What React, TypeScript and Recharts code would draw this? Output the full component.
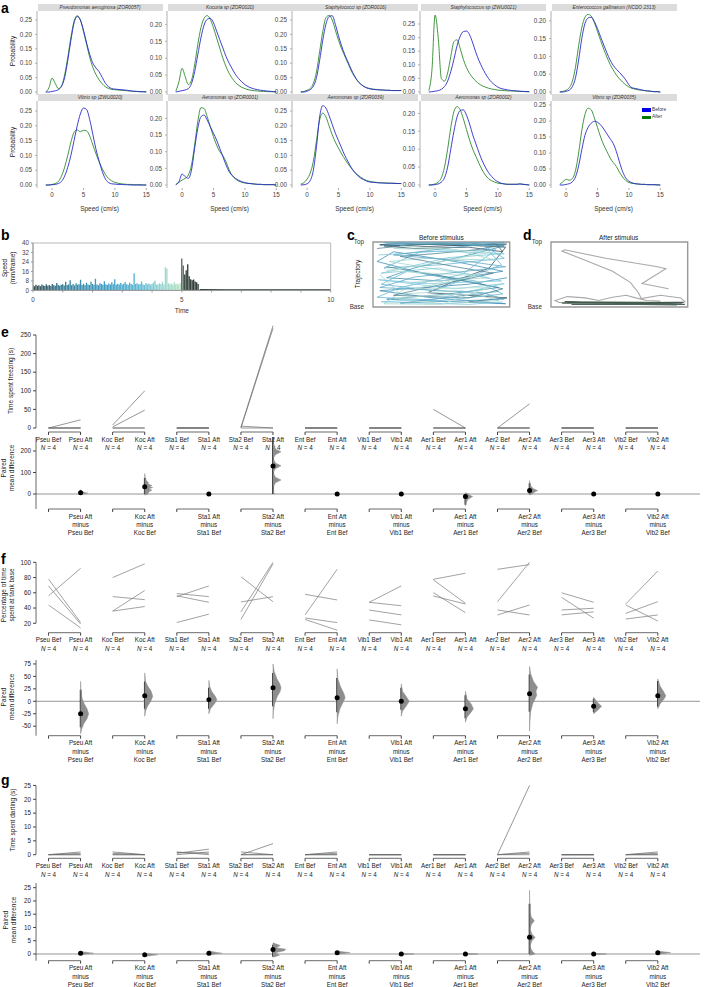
import React from 'react';
import { LineChart, Line, XAxis, YAxis, ComposedChart, Bar, Cell, Scatter, ReferenceLine, ReferenceArea } from 'recharts';

const FONT = '"Liberation Sans", Arial, Helvetica, sans-serif';
const BLUE = '#2b2bcc';
const GREEN = '#2e8b2e';

// ---------------- Panel a: speed density ----------------
const speedGrid = [-1, -0.5, 0, 0.5, 1, 1.5, 2, 2.5, 3, 3.5, 4, 4.5, 5, 5.5, 6, 6.5, 7, 7.5, 8, 8.5, 9, 9.5, 10, 10.5, 11, 11.5, 12, 12.5, 13, 13.5, 14, 14.5, 15];
const strainNames = ['Pseudomonas aeruginosa (ZOR0057)', 'Kocuria sp (ZOR0020)', 'Staphylococci sp (ZOR0016)', 'Staphylococcus sp (ZWU0021)', 'Enterococcus gallinarum (NCDO 2313)', 'Vibrio sp (ZWU0020)', 'Aeromonas sp (ZOR0001)', 'Aeromonas sp (ZOR0039)', 'Aeromonas sp (ZOR0002)', 'Vibrio sp (ZOR0035)'];

const zor0057Before = [0, 0, 0.002, 0.004, 0.008, 0.02, 0.05, 0.11, 0.18, 0.24, 0.262, 0.25, 0.215, 0.17, 0.13, 0.1, 0.083, 0.07, 0.05, 0.03, 0.018, 0.012, 0.01, 0.009, 0.008, 0.007, 0.006, 0.004, 0.003, 0.002, 0.001, 0.001, 0];
const zor0057After = [0, 0.015, 0.048, 0.03, 0.012, 0.02, 0.06, 0.12, 0.19, 0.245, 0.265, 0.25, 0.21, 0.165, 0.12, 0.085, 0.06, 0.042, 0.028, 0.018, 0.012, 0.009, 0.008, 0.007, 0.006, 0.005, 0.004, 0.003, 0.002, 0.002, 0.001, 0.001, 0.001];
const zor0020Before = [0, 0.002, 0.004, 0.006, 0.01, 0.025, 0.06, 0.11, 0.16, 0.198, 0.215, 0.218, 0.205, 0.18, 0.155, 0.13, 0.105, 0.085, 0.068, 0.052, 0.04, 0.03, 0.022, 0.016, 0.012, 0.009, 0.007, 0.005, 0.004, 0.003, 0.002, 0.001, 0.001];
const zor0020After = [0.002, 0.03, 0.07, 0.045, 0.022, 0.035, 0.08, 0.14, 0.19, 0.218, 0.226, 0.215, 0.19, 0.16, 0.13, 0.1, 0.075, 0.055, 0.04, 0.028, 0.02, 0.014, 0.01, 0.007, 0.005, 0.004, 0.003, 0.002, 0.002, 0.001, 0.001, 0.001, 0];
const zor0016Before = [0, 0, 0.003, 0.008, 0.02, 0.05, 0.11, 0.18, 0.235, 0.262, 0.265, 0.235, 0.195, 0.16, 0.13, 0.105, 0.08, 0.058, 0.04, 0.028, 0.02, 0.014, 0.011, 0.009, 0.008, 0.007, 0.007, 0.006, 0.006, 0.005, 0.005, 0.005, 0.005];
const zor0016After = [0, 0.002, 0.006, 0.012, 0.03, 0.07, 0.14, 0.21, 0.258, 0.266, 0.25, 0.215, 0.18, 0.15, 0.125, 0.1, 0.075, 0.055, 0.04, 0.028, 0.02, 0.015, 0.012, 0.01, 0.009, 0.008, 0.007, 0.006, 0.006, 0.005, 0.005, 0.005, 0.005];
const zwu0021Before = [0, 0.001, 0.003, 0.005, 0.01, 0.02, 0.04, 0.075, 0.12, 0.17, 0.205, 0.222, 0.224, 0.21, 0.18, 0.145, 0.115, 0.09, 0.068, 0.05, 0.036, 0.026, 0.018, 0.013, 0.01, 0.008, 0.006, 0.005, 0.004, 0.003, 0.002, 0.002, 0.001];
const zwu0021After = [0.005, 0.08, 0.283, 0.2, 0.05, 0.04, 0.07, 0.13, 0.185, 0.192, 0.16, 0.12, 0.09, 0.068, 0.052, 0.04, 0.03, 0.023, 0.018, 0.014, 0.011, 0.009, 0.007, 0.006, 0.005, 0.004, 0.004, 0.003, 0.003, 0.002, 0.002, 0.001, 0.001];
const ncdo2313Before = [0, 0, 0.002, 0.005, 0.015, 0.04, 0.09, 0.15, 0.192, 0.208, 0.21, 0.198, 0.178, 0.155, 0.132, 0.11, 0.09, 0.075, 0.064, 0.055, 0.045, 0.034, 0.02, 0.012, 0.01, 0.008, 0.006, 0.004, 0.003, 0.002, 0.001, 0.001, 0];
const ncdo2313After = [0, 0.002, 0.005, 0.012, 0.03, 0.07, 0.13, 0.18, 0.21, 0.218, 0.213, 0.195, 0.17, 0.145, 0.12, 0.098, 0.078, 0.062, 0.048, 0.037, 0.028, 0.02, 0.014, 0.01, 0.008, 0.006, 0.005, 0.004, 0.003, 0.002, 0.001, 0.001, 0];
const zwu0020Before = [0, 0, 0.001, 0.002, 0.005, 0.012, 0.03, 0.06, 0.1, 0.15, 0.2, 0.24, 0.26, 0.255, 0.22, 0.17, 0.12, 0.08, 0.045, 0.02, 0.008, 0.004, 0.003, 0.002, 0.002, 0.001, 0.001, 0, 0, 0, 0, 0, 0];
const zwu0020After = [0, 0, 0.002, 0.005, 0.012, 0.03, 0.06, 0.1, 0.145, 0.178, 0.186, 0.18, 0.185, 0.183, 0.165, 0.135, 0.105, 0.078, 0.055, 0.035, 0.022, 0.014, 0.009, 0.006, 0.004, 0.003, 0.002, 0.002, 0.001, 0.001, 0.001, 0, 0];
const zor0001Before = [0, 0.01, 0.033, 0.025, 0.02, 0.045, 0.11, 0.17, 0.205, 0.21, 0.195, 0.175, 0.155, 0.135, 0.11, 0.085, 0.06, 0.04, 0.028, 0.02, 0.014, 0.01, 0.007, 0.005, 0.004, 0.003, 0.002, 0.002, 0.001, 0.001, 0.001, 0.001, 0];
const zor0001After = [0.002, 0.008, 0.015, 0.02, 0.03, 0.06, 0.12, 0.19, 0.232, 0.23, 0.205, 0.175, 0.145, 0.12, 0.1, 0.088, 0.07, 0.045, 0.028, 0.018, 0.012, 0.008, 0.006, 0.005, 0.004, 0.003, 0.002, 0.002, 0.001, 0.001, 0.001, 0.001, 0];
const zor0039Before = [0, 0.001, 0.004, 0.015, 0.05, 0.13, 0.23, 0.268, 0.26, 0.235, 0.205, 0.175, 0.15, 0.125, 0.1, 0.08, 0.06, 0.045, 0.033, 0.024, 0.018, 0.013, 0.01, 0.009, 0.008, 0.007, 0.007, 0.006, 0.006, 0.006, 0.005, 0.005, 0.005];
const zor0039After = [0.003, 0.008, 0.02, 0.04, 0.08, 0.15, 0.22, 0.243, 0.23, 0.2, 0.17, 0.145, 0.125, 0.105, 0.088, 0.072, 0.058, 0.045, 0.035, 0.027, 0.02, 0.015, 0.012, 0.01, 0.009, 0.008, 0.007, 0.007, 0.006, 0.006, 0.006, 0.005, 0.005];
const zor0002Before = [0, 0, 0.001, 0.003, 0.008, 0.02, 0.05, 0.1, 0.15, 0.19, 0.208, 0.21, 0.195, 0.17, 0.14, 0.115, 0.09, 0.068, 0.05, 0.035, 0.024, 0.015, 0.009, 0.005, 0.003, 0.002, 0.002, 0.002, 0.002, 0.003, 0.002, 0.001, 0];
const zor0002After = [0, 0.001, 0.003, 0.008, 0.02, 0.05, 0.1, 0.16, 0.205, 0.219, 0.21, 0.185, 0.155, 0.125, 0.1, 0.08, 0.06, 0.042, 0.028, 0.018, 0.012, 0.008, 0.005, 0.004, 0.003, 0.002, 0.002, 0.002, 0.002, 0.003, 0.002, 0.001, 0];
const zor0035Before = [0, 0, 0.002, 0.004, 0.01, 0.025, 0.06, 0.11, 0.155, 0.18, 0.193, 0.199, 0.196, 0.188, 0.175, 0.16, 0.145, 0.13, 0.105, 0.072, 0.042, 0.022, 0.012, 0.007, 0.004, 0.003, 0.002, 0.002, 0.001, 0.001, 0.001, 0, 0];
const zor0035After = [0.002, 0.01, 0.018, 0.015, 0.02, 0.045, 0.1, 0.17, 0.22, 0.24, 0.235, 0.21, 0.18, 0.15, 0.125, 0.105, 0.085, 0.07, 0.058, 0.04, 0.025, 0.014, 0.008, 0.005, 0.004, 0.003, 0.002, 0.002, 0.001, 0.001, 0.001, 0.001, 0];

const densBefore = [zor0057Before, zor0020Before, zor0016Before, zwu0021Before, ncdo2313Before, zwu0020Before, zor0001Before, zor0039Before, zor0002Before, zor0035Before];
const densAfter = [zor0057After, zor0020After, zor0016After, zwu0021After, ncdo2313After, zwu0020After, zor0001After, zor0039After, zor0002After, zor0035After];
const probTicks25 = [0, 0.05, 0.1, 0.15, 0.2, 0.25];
const probTicks20 = [0, 0.05, 0.1, 0.15, 0.2];

// layout of the 10 density facets (positions / scales only)
const densLayout = [
  { left: 36.6, row: 0, ticks: probTicks25, ppu: 288 },
  { left: 166.6, row: 0, ticks: probTicks20, ppu: 338 },
  { left: 292.2, row: 0, ticks: probTicks25, ppu: 288 },
  { left: 420, row: 0, ticks: probTicks25, ppu: 272 },
  { left: 550.6, row: 0, ticks: probTicks20, ppu: 356 },
  { left: 36.6, row: 1, ticks: probTicks25, ppu: 296 },
  { left: 166.6, row: 1, ticks: probTicks20, ppu: 333 },
  { left: 292.2, row: 1, ticks: probTicks25, ppu: 296 },
  { left: 420, row: 1, ticks: probTicks20, ppu: 358 },
  { left: 550.6, row: 1, ticks: probTicks25, ppu: 320 },
];
const rowGeom = [
  { stripTop: 4, plotTop: 11, plotBottom: 95, zeroY: 92 },
  { stripTop: 94, plotTop: 101, plotBottom: 188, zeroY: 185 },
];

// ---------------- Panel b: speed trace ----------------
const speedStep = 0.05;
const speedValues = [
  4.2, 3.6, 4.8, 3.9, 4.4, 3.5, 4.9, 4.1, 3.8, 5.2,
  4.0, 4.6, 3.7, 5.5, 4.3, 4.0, 6.2, 4.5, 3.9, 4.8,
  5.1, 4.2, 7.4, 4.6, 5.0, 8.6, 4.4, 5.3, 4.1, 6.0,
  4.7, 5.2, 8.9, 4.5, 5.6, 4.3, 6.5, 5.0, 4.6, 7.2,
  5.3, 4.8, 9.8, 5.0, 4.4, 6.1, 5.5, 4.7, 7.8, 5.1,
  4.6, 5.9, 4.9, 6.8, 5.2, 9.4, 4.8, 5.7, 5.0, 6.3,
  4.9, 5.6, 7.0, 5.1, 4.7, 6.4, 5.3, 4.8, 14.5, 5.4,
  6.0, 4.9, 5.5, 7.6, 5.0, 4.6, 6.2, 5.2, 5.8, 4.8,
  5.4, 6.6, 8.2, 5.0, 4.7, 6.0, 5.3, 7.4, 4.9, 19.5,
  18.4, 6.1, 5.2, 5.8, 4.8, 6.9, 5.1, 5.6, 4.9, 6.3,
  27.0, 21.0, 13.5, 17.0, 22.0, 12.0, 9.5, 8.6, 9.2, 7.5, 6.8, 5.5,
];
const restTimes = [5.6, 6.5, 7.5, 8.5, 10];
const restSpeeds = [0.7, 0.4, 0.5, 0.4, 0.4];

// ---------------- Panels c, d: trajectories (x: 0-100 left-right, y: 0 base - 100 top) ----------------
const trajBefore = [
  { color: '#2e4d5a', pts: [[98, 97], [60, 95], [20, 98], [5, 96], [40, 93], [90, 97], [95, 85], [70, 92], [30, 90], [8, 94], [50, 97], [97, 92], [85, 60], [60, 40], [40, 22], [98, 14], [70, 8]] },
  { color: '#3a8db2', pts: [[5, 95], [45, 97], [96, 94], [70, 80], [30, 60], [10, 45], [50, 40], [95, 55], [60, 70], [15, 85], [3, 70], [40, 50], [92, 30], [55, 20], [10, 12], [60, 8], [97, 5], [40, 15], [5, 25], [70, 35], [98, 45]] },
  { color: '#62b4d3', pts: [[10, 98], [80, 96], [96, 75], [50, 65], [8, 60], [35, 85], [90, 88], [65, 50], [20, 30], [3, 15], [50, 10], [95, 20], [75, 40], [25, 55], [6, 35], [45, 25], [94, 65], [80, 97]] },
  { color: '#9fd4cf', pts: [[15, 90], [60, 88], [90, 72], [40, 75], [12, 70], [55, 55], [85, 45], [30, 38], [8, 5], [45, 4], [92, 10], [65, 25], [20, 20], [5, 50]] },
  { color: '#4a7f8f', pts: [[3, 90], [30, 96], [70, 98], [97, 96], [75, 88], [45, 82], [20, 78], [60, 62], [88, 52], [40, 30], [15, 18], [70, 14], [95, 28], [50, 48], [10, 62]] },
  { color: '#7cc6dc', pts: [[4, 80], [50, 86], [96, 82], [55, 76], [6, 52], [48, 60], [94, 40], [40, 36], [4, 42], [60, 28], [96, 36], [45, 12], [6, 8], [70, 4], [95, 8]] },
  { color: '#5aa6c4', pts: [[8, 99], [96, 99], [60, 92], [15, 80], [70, 70], [97, 62], [30, 46], [5, 30], [80, 22], [96, 12], [20, 6], [60, 16], [92, 24]] },
  { color: '#b6e0d2', pts: [[20, 94], [85, 84], [40, 66], [10, 56], [75, 48], [30, 28], [85, 30], [50, 4], [15, 14], [65, 20]] },
];
const trajAfterGrey = [[86, 28], [66.6, 36], [84, 59], [78, 62], [40, 75], [10, 88], [8, 86], [25, 72], [45, 55], [58, 38], [64, 22], [66, 13], [80, 18], [95, 14], [98, 8], [70, 6], [40, 7], [6, 7], [3, 10], [12, 16], [25, 14], [35, 10], [45, 15], [55, 18], [62, 14], [70, 10], [80, 9]];
const trajAfterDark = [[8, 6], [96, 5], [15, 4], [97, 7], [10, 8], [92, 3], [20, 5], [98, 4], [12, 6], [94, 6], [30, 4], [90, 5]];

// ---------------- Panels e, f, g: estimation plots ----------------
const groups = ['Pseu', 'Koc', 'Sta1', 'Sta2', 'Ent', 'Vib1', 'Aer1', 'Aer2', 'Aer3', 'Vib2'];
const sampleN = [4, 4, 4, 4, 4, 4, 4, 4, 4, 4];

const freezeBef = [[0, 0, 0, 0], [8, 3, 0, 0], [0, 0, 0, 0], [2, 0, 5, 0], [0, 0, 0, 0], [0, 0, 0, 0], [50, 0, 0, 0], [0, 0, 0, 0], [0, 0, 0, 0], [0, 0, 0, 0]];
const freezeAft = [[22, 0, 0, 0], [100, 48, 0, 0], [0, 0, 0, 0], [275, 268, 0, 0], [0, 0, 0, 0], [0, 0, 0, 0], [0, 0, 0, 0], [65, 0, 0, 0], [0, 0, 0, 0], [0, 0, 0, 0]];
const freezeMeans = [5.5, 34, 0, 130, 0, 0, -12, 16, 0, 0];
const freezeCiLow = [0, 0, 0, 0, 0, 0, -50, 0, 0, 0];
const freezeCiHigh = [16.5, 75, 0, 265, 0, 0, 0, 50, 0, 0];
const freezeViolins = [
  { ys: [0, 4, 6, 10, 16, 20], ws: [0.3, 0.9, 0.6, 0.3, 0.1, 0] },
  { ys: [-5, 0, 10, 18, 24, 30, 35, 40, 46, 52, 60, 75, 95], ws: [0, 0.4, 0.5, 0.9, 0.5, 1, 0.6, 0.9, 0.4, 0.5, 0.25, 0.08, 0] },
  null,
  { ys: [0, 30, 52, 65, 78, 100, 118, 131, 144, 165, 183, 196, 209, 240, 265], ws: [0.15, 0.03, 0.3, 1, 0.3, 0.03, 0.3, 1, 0.3, 0.03, 0.3, 1, 0.3, 0.03, 0] },
  null,
  null,
  { ys: [-55, -40, -25, -12, -5, 0, 6], ws: [0, 0.1, 0.3, 0.9, 0.5, 0.4, 0] },
  { ys: [-5, 0, 8, 16, 24, 35, 50, 62], ws: [0, 0.3, 0.6, 1, 0.5, 0.2, 0.05, 0] },
  null,
  null,
];

const pctBef = [[78, 69, 56, 44], [80, 55, 36, 36], [59, 56, 55, 21], [81, 48, 35, 25], [58, 31, 27, 25], [47.5, 47.5, 37.4, 24.4], [77.7, 77, 60.2, 55.8], [90.8, 48.3, 37.5, 30.9], [60, 54, 37.5, 31], [45.3, 44, 33, 25.6]];
const pctAft = [[21, 19, 92, 14], [98, 51, 63, 42], [55, 47.5, 69, 32], [48.3, 54.9, 100, 98], [50.6, 90.8, 20.9, 11], [69, 43, 31, 18], [85.6, 46.2, 34, 45.3], [97, 100, 30.9, 44], [47.5, 26.6, 39.7, 35], [88.6, 23, 48.3, 30.9]];
const pctMeans = [-25, 11, 3, 27, 7, 0, -15, 15, -10, 11];
const pctCiLow = [-52, -15, -15, -10, -22, -17, -34, -21, -22, -11];
const pctCiHigh = [23, 40, 27, 57, 47, 27, 12, 54, 5, 41];
const pctViolins = [
  { ys: [-65, -55, -45, -35, -25, -15, -5, 5, 20, 40], ws: [0, 0.15, 0.4, 0.8, 1, 0.8, 0.45, 0.2, 0.05, 0] },
  { ys: [-30, -20, -10, 0, 10, 20, 30, 40, 57], ws: [0, 0.1, 0.35, 0.75, 1, 0.8, 0.4, 0.1, 0] },
  { ys: [-25, -15, -5, 3, 10, 20, 30, 42], ws: [0, 0.2, 0.7, 1, 0.8, 0.35, 0.1, 0] },
  { ys: [-35, -20, -5, 10, 20, 27, 35, 45, 60, 75], ws: [0, 0.05, 0.2, 0.55, 0.9, 1, 0.85, 0.5, 0.15, 0] },
  { ys: [-45, -30, -15, 0, 7, 15, 30, 45, 65], ws: [0, 0.1, 0.35, 0.8, 1, 0.85, 0.4, 0.1, 0] },
  { ys: [-30, -20, -10, 0, 10, 20, 35], ws: [0, 0.15, 0.6, 1, 0.6, 0.15, 0] },
  { ys: [-42, -32, -22, -15, -5, 5, 20], ws: [0, 0.2, 0.7, 1, 0.7, 0.2, 0] },
  { ys: [-60, -40, -20, -5, 5, 12, 20, 28, 40, 55, 70], ws: [0, 0.05, 0.15, 0.4, 0.7, 0.9, 0.8, 1, 0.5, 0.15, 0] },
  { ys: [-25, -18, -10, -3, 8], ws: [0, 0.5, 1, 0.5, 0] },
  { ys: [-15, -5, 5, 11, 20, 30, 45], ws: [0, 0.3, 0.8, 1, 0.7, 0.3, 0] },
];

const dartBef = [[0, 0, 0, 0], [1, 0.5, 0, 0], [1, 0.5, 0, 0.8], [0, 1, 0, 0], [0, 0, 0, 0], [0, 0, 0, 0], [0, 0, 0, 0], [0, 0, 0, 0], [0, 0, 0, 0], [0, 0, 0, 0]];
const dartAft = [[1, 0.5, 0, 0], [0, 0, 0, 0], [0, 2, 1, 0.5], [4, 0, 0, 0], [1, 0.5, 0, 0], [0, 0, 0, 0], [0, 0, 0, 0], [25, 1, 0.5, 0], [0, 0, 0, 0], [1, 0.5, 0, 0]];
const dartMeans = [0.3, -0.3, 0.3, 1.7, 0.5, 0, 0, 6.3, 0, 0.5];
const dartCiLow = [0, -0.8, -0.3, -1, 0, 0, 0, 0, 0, 0];
const dartCiHigh = [0.8, 0, 1, 3.5, 0.8, 0, 0, 18.9, 0, 0.8];
const dartViolins = [
  { ys: [-0.3, 0.3, 0.9], ws: [0, 1.6, 0] },
  { ys: [-0.9, -0.3, 0.3], ws: [0, 1.6, 0] },
  { ys: [-0.5, 0, 0.3, 0.7, 1.2], ws: [0, 0.8, 1.6, 0.8, 0] },
  { ys: [-1.2, -0.5, 0.5, 1.2, 1.8, 2.4, 3.2, 4.2], ws: [0, 0.8, 0.3, 1.4, 1.6, 0.4, 0.9, 0] },
  { ys: [-0.1, 0.5, 1.1], ws: [0, 1.6, 0] },
  { ys: [-0.3, 0, 0.3], ws: [0, 1.6, 0] },
  { ys: [-0.3, 0, 0.3], ws: [0, 1.6, 0] },
  { ys: [-0.5, 0, 1.2, 3, 5, 6.25, 7.5, 9.5, 11.2, 12.5, 13.8, 16, 19, 24], ws: [0, 0.7, 0.3, 0.05, 0.3, 0.7, 0.3, 0.05, 0.25, 0.6, 0.25, 0.03, 0.02, 0] },
  { ys: [-0.3, 0, 0.3], ws: [0, 1.6, 0] },
  { ys: [-0.1, 0.5, 1.1], ws: [0, 1.6, 0] },
];

// ---------------- helpers ----------------
const PL = 35.5; // plot left of estimation charts
const XD: [number, number] = [-0.39, 20.33];
const PW = 664.5;
const YW = 30;
const pairTickIdx = Array.from({ length: 20 }, (_, i) => i);

function Letter({ ch, x, y }: any) {
  return <div style={{ position: 'absolute', left: x, top: y, fontSize: 14, lineHeight: '14px', fontWeight: 700, fontFamily: FONT, color: '#000' }}>{ch}</div>;
}

function VLabel({ cx, cy, lines, size = 6.5 }: any) {
  return (
    <div style={{ position: 'absolute', left: cx, top: cy, transform: 'translate(-50%,-50%) rotate(-90deg)', fontSize: size, lineHeight: `${size + 1.6}px`, textAlign: 'center', whiteSpace: 'nowrap', fontFamily: FONT, color: '#222' }}>
      {lines.map((l: string, i: number) => <div key={i}>{l}</div>)}
    </div>
  );
}

function TextAt({ cx, cy, text, size = 6.5, italic = false }: any) {
  return <div style={{ position: 'absolute', left: cx, top: cy, transform: 'translate(-50%,-50%)', fontSize: size, lineHeight: `${size + 1}px`, whiteSpace: 'nowrap', fontFamily: FONT, color: '#222', fontStyle: italic ? 'italic' : 'normal' }}>{text}</div>;
}

function DensityPanel({ idx }: any) {
  const lay = densLayout[idx];
  const g = rowGeom[lay.row];
  const showX = lay.row === 1;
  const data = speedGrid.map((x, i) => ({ x, b: densBefore[idx][i], a: densAfter[idx][i] }));
  const yMax = (g.zeroY - g.plotTop) / lay.ppu;
  const yMin = -(g.plotBottom - g.zeroY) / lay.ppu;
  const AW = 26;
  const plotW = 125;
  const plotH = g.plotBottom - g.plotTop;
  const XH = showX ? 25 : 0;
  const MT = 4;
  return (
    <>
      <div style={{ position: 'absolute', left: lay.left + 1, top: g.stripTop, width: plotW, height: 7, background: '#dcdcdc', fontSize: 4.8, fontStyle: 'italic', textAlign: 'center', lineHeight: '7px', color: '#333', whiteSpace: 'nowrap', overflow: 'hidden', fontFamily: FONT }}>{strainNames[idx]}</div>
      <div style={{ position: 'absolute', left: lay.left - AW, top: g.plotTop - MT }}>
        <LineChart width={AW + plotW} height={plotH + XH + MT} data={data} margin={{ top: MT, right: 0, bottom: 0, left: 0 }}>
          <XAxis type="number" dataKey="x" domain={[-2.4, 17.5]} ticks={[0, 5, 10, 15]} allowDataOverflow hide={!showX} height={XH || 1} axisLine={false} tickSize={2} tickMargin={3} interval={0}
            tick={{ fontSize: 6.3, fill: '#444', fontFamily: FONT }} tickLine={{ stroke: '#aaa' }}
            label={{ value: 'Speed (cm/s)', position: 'insideBottom', offset: 2, fontSize: 6.5, fill: '#333', fontFamily: FONT }} />
          <YAxis type="number" domain={[yMin, yMax]} allowDataOverflow ticks={lay.ticks} interval={0} tickFormatter={(v: number) => v.toFixed(2)} width={AW} tickSize={2} tickMargin={3}
            axisLine={{ stroke: '#b0b0b0' }} tickLine={{ stroke: '#b0b0b0' }} tick={{ fontSize: 6.3, fill: '#444', fontFamily: FONT }} />
          <Line type="monotone" dataKey="a" stroke={GREEN} strokeWidth={0.9} dot={false} isAnimationActive={false} />
          <Line type="monotone" dataKey="b" stroke={BLUE} strokeWidth={0.9} dot={false} isAnimationActive={false} />
        </LineChart>
      </div>
    </>
  );
}

const colorStops: [number, number[]][] = [[0, [58, 78, 80]], [0.4, [58, 98, 110]], [1.2, [58, 135, 165]], [2.5, [66, 160, 200]], [3.6, [95, 185, 212]], [4.3, [150, 212, 210]], [5, [185, 228, 195]]];
function speedColor(t: number) {
  if (t >= 4.99) return t < 5.07 ? '#5c6862' : '#34413b';
  for (let i = 1; i < colorStops.length; i++) {
    if (t <= colorStops[i][0]) {
      const [t0, c0] = colorStops[i - 1];
      const [t1, c1] = colorStops[i];
      const f = (t - t0) / (t1 - t0);
      const c = c0.map((v, k) => Math.round(v + (c1[k] - v) * f));
      return `rgb(${c[0]},${c[1]},${c[2]})`;
    }
  }
  return '#b9e4c3';
}

function SpeedPanel() {
  const data = speedValues.map((v, i) => ({ t: +(i * speedStep).toFixed(2), v }));
  const rest = restTimes.map((t, i) => ({ t, v: restSpeeds[i] }));
  const AW = 20;
  const plotH = 47.4;
  const MT = 5;
  return (
    <div style={{ position: 'absolute', left: 33.3 - AW, top: 243.3 - MT }}>
      <ComposedChart width={AW + 297.7 + 4} height={plotH + 24 + MT} data={data} margin={{ top: MT, right: 4, left: 0, bottom: 0 }}>
        <XAxis type="number" dataKey="t" domain={[0, 10]} allowDataOverflow ticks={[0, 1, 2, 3, 4, 5, 6, 7, 8, 9, 10]} interval={0}
          tickFormatter={(v: number) => (v % 5 === 0 ? String(v) : '')} height={24} axisLine={{ stroke: '#999' }} tickLine={{ stroke: '#999' }} tickSize={2} tickMargin={5}
          tick={{ fontSize: 6.3, fill: '#444', fontFamily: FONT }}
          label={{ value: 'Time', position: 'insideBottom', offset: 1, fontSize: 6.5, fill: '#333', fontFamily: FONT }} />
        <YAxis type="number" domain={[0, 40]} allowDataOverflow ticks={[0, 8, 16, 24, 32, 40]} interval={0} width={AW} tickSize={2} tickMargin={2}
          axisLine={{ stroke: '#999' }} tickLine={{ stroke: '#999' }} tick={{ fontSize: 6.3, fill: '#444', fontFamily: FONT }} />
        <ReferenceArea x1={0} x2={10} y1={0} y2={40} fill="none" stroke="#aaa" strokeWidth={0.8} ifOverflow="visible" />
        <Bar dataKey="v" barSize={1.7} isAnimationActive={false}>
          {data.map((d, i) => <Cell key={i} fill={speedColor(d.t)} />)}
        </Bar>
        <Line data={rest} dataKey="v" stroke="#2c3a33" strokeWidth={1.3} dot={false} isAnimationActive={false} type="linear" />
      </ComposedChart>
    </div>
  );
}

function TrajPanel({ plotLeft, series, title }: any) {
  const AW = 30;
  const M = 5;
  return (
    <>
      <TextAt cx={plotLeft + 68} cy={237.5} text={title} size={6.5} />
      <div style={{ position: 'absolute', left: plotLeft - AW, top: 241.7 - M }}>
        <LineChart width={AW + 136.7 + 2} height={65 + 2 * M} margin={{ top: M, right: 2, bottom: M, left: 0 }}>
          <XAxis type="number" dataKey="x" domain={[0, 100]} allowDataOverflow hide height={1} />
          <YAxis type="number" dataKey="y" domain={[0, 100]} allowDataOverflow ticks={[0, 100]} interval={0} width={AW}
            tickFormatter={(v: number) => (v === 100 ? 'Top' : 'Base')} axisLine={false} tickLine={false} tickMargin={3}
            tick={{ fontSize: 6.3, fill: '#333', fontFamily: FONT }} />
          {series.map((s: any, i: number) => (
            <Line key={i} data={s.pts.map((p: number[]) => ({ x: p[0], y: p[1] }))} dataKey="y" stroke={s.color} strokeWidth={s.w || 0.9}
              dot={false} isAnimationActive={false} type={s.type || 'linear'} strokeOpacity={0.85} />
          ))}
          <ReferenceArea x1={0} x2={100} y1={0} y2={100} fill="none" stroke="#999" strokeWidth={1.4} ifOverflow="visible" />
        </LineChart>
      </div>
    </>
  );
}

function PairTick(props: any) {
  const { x, y, payload } = props;
  const i = payload.value;
  const g = groups[Math.floor(i / 2)];
  const label = `${g} ${i % 2 === 0 ? 'Bef' : 'Aft'}`;
  return (
    <g>
      <text x={x} y={y + 6.8} textAnchor="middle" fontSize={6.3} fill="#222" fontFamily={FONT}>{label}</text>
      <text x={x} y={y + 15.3} textAnchor="middle" fontSize={6.3} fill="#222" fontFamily={FONT}><tspan fontStyle="italic">N</tspan> = {sampleN[Math.floor(i / 2)]}</text>
    </g>
  );
}

function DiffTick(props: any) {
  const { x, y, payload } = props;
  const i = payload.value;
  if (i % 2 === 0) return <g />;
  const g = groups[Math.floor(i / 2)];
  return (
    <g>
      <text x={x} y={y + 6.8} textAnchor="middle" fontSize={6.3} fill="#222" fontFamily={FONT}>{`${g} Aft`}</text>
      <text x={x} y={y + 14.9} textAnchor="middle" fontSize={6.3} fill="#222" fontFamily={FONT}>minus</text>
      <text x={x} y={y + 22.9} textAnchor="middle" fontSize={6.3} fill="#222" fontFamily={FONT}>{`${g} Bef`}</text>
    </g>
  );
}

function SlopeChart({ top, bottom, zeroY, ppu, ticks, spine, bef, aft, stroke }: any) {
  const yMax = (zeroY - top) / ppu;
  const yMin = -(bottom - zeroY) / ppu;
  const H = bottom - top;
  const XH = 28;
  const MT = 4;
  const lines = [0, 1, 2, 3].map((s) => groups.flatMap((g, i) => [{ x: 2 * i, y: bef[i][s] }, { x: 2 * i + 1, y: aft[i][s] }, { x: 2 * i + 1.5, y: null }]));
  return (
    <div style={{ position: 'absolute', left: PL - YW, top: top - MT }}>
      <ComposedChart width={YW + PW} height={H + XH + MT} margin={{ top: MT, right: 0, left: 0, bottom: 0 }}>
        <XAxis type="number" dataKey="x" domain={XD} allowDataOverflow ticks={pairTickIdx} interval={0} tick={(p: any) => <PairTick {...p} />}
          axisLine={false} tickSize={3} tickMargin={0} tickLine={{ stroke: '#444' }} height={XH} />
        <YAxis type="number" dataKey="y" domain={[yMin, yMax]} allowDataOverflow ticks={ticks} interval={0} width={YW} axisLine={false}
          tickSize={3} tickMargin={2} tickLine={{ stroke: '#444' }} tick={{ fontSize: 6.3, fill: '#222', fontFamily: FONT }} />
        <ReferenceLine segment={[{ x: XD[0], y: spine[0] }, { x: XD[0], y: spine[1] }]} stroke="#444" strokeWidth={0.8} ifOverflow="visible" />
        {groups.map((g, i) => (
          <ReferenceLine key={g} segment={[{ x: 2 * i, y: yMin }, { x: 2 * i + 1, y: yMin }]} stroke="#444" strokeWidth={0.8} ifOverflow="visible" />
        ))}
        {lines.map((d, s) => (
          <Line key={s} data={d} dataKey="y" stroke={stroke} strokeWidth={0.7} dot={false} isAnimationActive={false} connectNulls={false} type="linear" />
        ))}
      </ComposedChart>
    </div>
  );
}

function DiffChart({ top, bottom, zeroY, ppu, ticks, means, ciLow, ciHigh, violins }: any) {
  const yMax = (zeroY - top) / ppu;
  const yMin = -(bottom - zeroY) / ppu;
  const H = bottom - top;
  const XH = 30;
  const MT = 4;
  const VW = 0.25; // violin width scale in group-index units
  const points = groups.map((g, i) => ({ x: 2 * i + 1, y: means[i] }));
  const ciData = groups.flatMap((g, i) => [{ x: 2 * i + 1, y: ciLow[i] }, { x: 2 * i + 1, y: ciHigh[i] }, { x: 2 * i + 1.3, y: null }]);
  return (
    <div style={{ position: 'absolute', left: PL - YW, top: top - MT }}>
      <ComposedChart width={YW + PW} height={H + XH + MT} margin={{ top: MT, right: 0, left: 0, bottom: 0 }}>
        <XAxis type="number" dataKey="x" domain={XD} allowDataOverflow ticks={pairTickIdx} interval={0} tick={(p: any) => <DiffTick {...p} />}
          axisLine={false} tickSize={3} tickMargin={0} tickLine={{ stroke: '#444' }} height={XH} />
        <YAxis type="number" dataKey="y" domain={[yMin, yMax]} allowDataOverflow ticks={ticks} interval={0} width={YW} axisLine={{ stroke: '#444', strokeWidth: 0.8 }}
          tickSize={3} tickMargin={2} tickLine={{ stroke: '#444' }} tick={{ fontSize: 6.3, fill: '#222', fontFamily: FONT }} />
        <ReferenceLine y={0} stroke="#8a8a8a" strokeWidth={0.9} />
        {groups.map((g, i) => (
          <ReferenceLine key={g} segment={[{ x: 2 * i, y: yMin }, { x: 2 * i + 1, y: yMin }]} stroke="#444" strokeWidth={0.8} ifOverflow="visible" />
        ))}
        {violins.map((v: any, i: number) => {
          if (!v) return null;
          const x0 = 2 * i + 1;
          const pts = [{ x: x0, y: v.ys[0] }, ...v.ys.map((y: number, k: number) => ({ x: x0 + v.ws[k] * VW, y })), { x: x0, y: v.ys[v.ys.length - 1] }, { x: x0, y: v.ys[0] }];
          return (
            <Scatter key={`v${i}`} data={pts} line={{ stroke: '#8e8e8e', strokeWidth: 0.5, fill: '#8e8e8e' }} lineType="joint"
              shape={() => <g />} isAnimationActive={false} />
          );
        })}
        <Line data={ciData} dataKey="y" stroke="#000" strokeWidth={1.6} dot={false} isAnimationActive={false} connectNulls={false} type="linear" />
        <Scatter data={points} isAnimationActive={false} shape={(p: any) => <circle cx={p.cx} cy={p.cy} r={2.5} fill="#000" />} />
      </ComposedChart>
    </div>
  );
}

export default function App() {
  return (
    <div style={{ position: 'absolute', left: 0, top: 0, width: 704, height: 987, background: '#fff', overflow: 'hidden', fontFamily: FONT }}>
      {/* a */}
      <Letter ch="a" x={1} y={1} />
      {densLayout.map((_, i) => <DensityPanel key={i} idx={i} />)}
      <VLabel cx={12.5} cy={51} lines={['Probability']} />
      <VLabel cx={12.5} cy={142} lines={['Probability']} />
      <div style={{ position: 'absolute', left: 641.5, top: 108.3, width: 9, height: 3.4, background: '#0000ee' }} />
      <div style={{ position: 'absolute', left: 641.5, top: 115.6, width: 9, height: 3.4, background: '#007a00' }} />
      <div style={{ position: 'absolute', left: 652, top: 107, fontSize: 4.8, lineHeight: '6px', fontFamily: FONT, color: '#333' }}>Before</div>
      <div style={{ position: 'absolute', left: 652, top: 114.3, fontSize: 4.8, lineHeight: '6px', fontFamily: FONT, color: '#333' }}>After</div>

      {/* b */}
      <Letter ch="b" x={1} y={228} />
      <SpeedPanel />
      <VLabel cx={8.5} cy={268} lines={['Speed', '(mm/frame)']} size={6.3} />

      {/* c, d */}
      <Letter ch="c" x={347} y={228} />
      <TrajPanel plotLeft={373.3} title="Before stimulus" series={trajBefore} />
      <VLabel cx={357.5} cy={274} lines={['Trajectory']} />
      <Letter ch="d" x={523} y={228} />
      <TrajPanel plotLeft={550.7} title="After stimulus" series={[{ color: '#9a9a9a', pts: trajAfterGrey, w: 1.1, type: 'linear' }, { color: '#2f4a3c', pts: trajAfterDark, w: 1.1, type: 'linear' }]} />

      {/* e */}
      <Letter ch="e" x={1} y={325} />
      <SlopeChart top={322} bottom={432} zeroY={428} ppu={0.372} ticks={[0, 50, 100, 150, 200, 250]} spine={[0, 250]} bef={freezeBef} aft={freezeAft} stroke="#6a6a6a" />
      <VLabel cx={11} cy={381} lines={['Time spent freezing (s)']} />
      <DiffChart top={437} bottom={509} zeroY={494} ppu={0.215} ticks={[0, 100, 200]} means={freezeMeans} ciLow={freezeCiLow} ciHigh={freezeCiHigh} violins={freezeViolins} />
      <VLabel cx={8} cy={468} lines={['Paired', 'mean difference']} />

      {/* f */}
      <Letter ch="f" x={1} y={552} />
      <SlopeChart top={559} bottom={632.7} zeroY={638.55} ppu={0.7625} ticks={[20, 40, 60, 80, 100]} spine={[20, 100]} bef={pctBef} aft={pctAft} stroke="#7a7a7a" />
      <VLabel cx={8} cy={595} lines={['Percentage of time', 'spent at tank base']} />
      <DiffChart top={660} bottom={735.7} zeroY={701.3} ppu={0.498} ticks={[-50, -25, 0, 25, 50, 75]} means={pctMeans} ciLow={pctCiLow} ciHigh={pctCiHigh} violins={pctViolins} />
      <VLabel cx={8} cy={697} lines={['Paired', 'mean difference']} />

      {/* g */}
      <Letter ch="g" x={1} y={773} />
      <SlopeChart top={783} bottom={858.3} zeroY={854.7} ppu={2.77} ticks={[0, 5, 10, 15, 20, 25]} spine={[0, 25]} bef={dartBef} aft={dartAft} stroke="#6a6a6a" />
      <VLabel cx={13} cy={820} lines={['Time spent darting (s)']} />
      <DiffChart top={883} bottom={960.7} zeroY={954} ppu={2.652} ticks={[0, 5, 10, 15, 20, 25]} means={dartMeans} ciLow={dartCiLow} ciHigh={dartCiHigh} violins={dartViolins} />
      <VLabel cx={10} cy={920} lines={['Paired', 'mean difference']} />
    </div>
  );
}
